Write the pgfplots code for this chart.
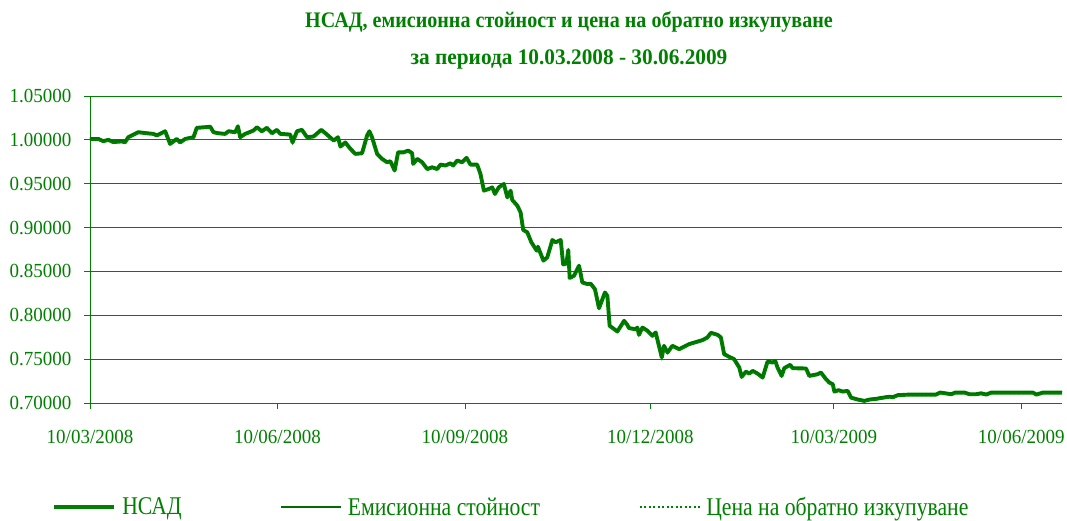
\documentclass[border=0pt]{standalone}
\usepackage{fontspec}
\setmainfont{Liberation Serif}
\newfontfamily\tickfont[FakeStretch=0.95]{Liberation Serif}
\newfontfamily\legfont[FakeStretch=0.85]{Liberation Serif}
\newfontfamily\titfonta[FakeStretch=0.905]{Liberation Serif}
\newfontfamily\titfontb[FakeStretch=0.96]{Liberation Serif}
\usepackage{pgfplots}
\usepackage{pgfplotstable}
\pgfplotsset{compat=1.18}
\definecolor{xlgreen}{RGB}{0,128,0}

\pgfplotstableread{
d nav emis red
0 1.0010 1.0020 1.0000
4.1 1.0010 1.0020 1.0000
6.5 0.9985 0.9995 0.9975
9.0 1.0000 1.0010 0.9990
11.4 0.9975 0.9985 0.9965
15.6 0.9982 0.9992 0.9972
17.2 0.9972 0.9982 0.9962
18.8 1.0030 1.0040 1.0020
23.7 1.0087 1.0097 1.0077
27.9 1.0075 1.0085 1.0065
31.1 1.0068 1.0078 1.0058
32.8 1.0050 1.0060 1.0040
36.9 1.0098 1.0108 1.0088
39.3 0.9954 0.9964 0.9944
42.6 1.0010 1.0020 1.0000
44.2 0.9970 0.9980 0.9960
46.7 1.0010 1.0020 1.0000
50.8 1.0030 1.0040 1.0020
52.4 1.0137 1.0147 1.0127
56.5 1.0144 1.0154 1.0134
59.0 1.0150 1.0160 1.0140
60.6 1.0087 1.0097 1.0077
63.0 1.0075 1.0085 1.0065
66.3 1.0068 1.0078 1.0058
68.0 1.0098 1.0108 1.0088
71.3 1.0087 1.0097 1.0077
72.6 1.0155 1.0165 1.0145
73.7 1.0030 1.0040 1.0020
76.2 1.0068 1.0078 1.0058
80.2 1.0106 1.0116 1.0096
81.9 1.0144 1.0154 1.0134
84.3 1.0098 1.0108 1.0088
86.8 1.0137 1.0147 1.0127
89.3 1.0075 1.0085 1.0065
91.7 1.0114 1.0124 1.0104
93.4 1.0068 1.0078 1.0058
98.3 1.0060 1.0070 1.0050
99.4 0.9970 0.9980 0.9960
101.6 1.0098 1.0108 1.0088
104.0 1.0114 1.0124 1.0104
106.5 1.0030 1.0040 1.0020
109.7 1.0038 1.0048 1.0028
113.5 1.0114 1.0124 1.0104
116.3 1.0060 1.0070 1.0050
119.6 0.9992 1.0002 0.9982
121.7 1.0030 1.0040 1.0020
122.9 0.9923 0.9933 0.9913
125.3 0.9970 0.9980 0.9960
127.8 0.9897 0.9907 0.9887
130.2 0.9840 0.9850 0.9830
133.5 0.9847 0.9857 0.9837
136.0 1.0050 1.0060 1.0040
137.1 1.0098 1.0108 1.0088
138.4 1.0030 1.0040 1.0020
140.9 0.9840 0.9850 0.9830
143.3 0.9783 0.9793 0.9773
145.8 0.9744 0.9754 0.9734
147.4 0.9756 0.9766 0.9746
149.5 0.9650 0.9660 0.9640
151.2 0.9858 0.9868 0.9848
154.0 0.9858 0.9868 0.9848
156.1 0.9878 0.9888 0.9868
158.1 0.9847 0.9857 0.9837
158.6 0.9726 0.9736 0.9716
160.6 0.9783 0.9793 0.9773
163.0 0.9744 0.9754 0.9734
165.5 0.9667 0.9677 0.9657
167.9 0.9687 0.9697 0.9677
170.4 0.9667 0.9677 0.9657
172.0 0.9718 0.9728 0.9708
174.4 0.9707 0.9717 0.9697
176.9 0.9733 0.9743 0.9723
178.2 0.9707 0.9717 0.9697
180.2 0.9764 0.9774 0.9754
182.6 0.9744 0.9754 0.9734
184.8 0.9795 0.9805 0.9785
186.7 0.9718 0.9728 0.9708
190.0 0.9718 0.9728 0.9708
191.6 0.9612 0.9622 0.9602
193.3 0.9421 0.9431 0.9411
195.7 0.9440 0.9450 0.9430
197.4 0.9458 0.9468 0.9448
198.7 0.9383 0.9393 0.9373
200.6 0.9458 0.9468 0.9448
203.1 0.9497 0.9507 0.9487
204.8 0.9344 0.9354 0.9334
206.4 0.9421 0.9431 0.9411
207.2 0.9315 0.9325 0.9305
209.7 0.9250 0.9260 0.9240
211.3 0.9173 0.9183 0.9163
212.6 0.8973 0.8983 0.8963
214.6 0.8945 0.8955 0.8935
216.6 0.8832 0.8842 0.8822
219.2 0.8737 0.8747 0.8727
219.8 0.8782 0.8792 0.8772
222.5 0.8623 0.8633 0.8613
224.4 0.8660 0.8670 0.8650
226.9 0.8858 0.8868 0.8848
228.5 0.8832 0.8842 0.8822
231.0 0.8858 0.8868 0.8848
232.2 0.8580 0.8590 0.8570
233.8 0.8590 0.8600 0.8580
234.7 0.8744 0.8754 0.8734
235.4 0.8425 0.8435 0.8415
237.5 0.8450 0.8460 0.8440
240.0 0.8565 0.8575 0.8555
241.6 0.8374 0.8384 0.8364
244.1 0.8356 0.8366 0.8346
245.7 0.8360 0.8370 0.8350
247.8 0.8297 0.8307 0.8287
249.8 0.8080 0.8090 0.8070
252.7 0.8260 0.8270 0.8250
253.9 0.8220 0.8230 0.8210
255.0 0.7880 0.7890 0.7870
258.8 0.7815 0.7825 0.7805
262.1 0.7937 0.7947 0.7927
263.7 0.7890 0.7900 0.7880
264.5 0.7854 0.7864 0.7844
267.8 0.7840 0.7850 0.7830
268.6 0.7860 0.7870 0.7850
269.4 0.7777 0.7787 0.7767
271.1 0.7860 0.7870 0.7850
273.6 0.7823 0.7833 0.7813
276.0 0.7766 0.7776 0.7756
277.6 0.7804 0.7814 0.7794
280.6 0.7519 0.7529 0.7509
281.7 0.7652 0.7662 0.7642
283.4 0.7575 0.7585 0.7565
285.8 0.7652 0.7662 0.7642
287.5 0.7632 0.7642 0.7622
289.1 0.7614 0.7624 0.7604
294.0 0.7671 0.7681 0.7661
300.6 0.7717 0.7727 0.7707
303.0 0.7747 0.7757 0.7737
304.7 0.7800 0.7810 0.7790
308.0 0.7777 0.7787 0.7767
309.6 0.7747 0.7757 0.7737
311.2 0.7557 0.7567 0.7547
313.7 0.7526 0.7536 0.7516
316.1 0.7500 0.7510 0.7490
317.4 0.7450 0.7460 0.7440
318.6 0.7405 0.7415 0.7395
319.8 0.7298 0.7308 0.7288
321.9 0.7358 0.7368 0.7348
323.5 0.7335 0.7345 0.7325
325.2 0.7366 0.7376 0.7356
327.6 0.7335 0.7345 0.7325
330.1 0.7290 0.7300 0.7280
332.5 0.7473 0.7483 0.7463
335.0 0.7461 0.7471 0.7451
336.3 0.7480 0.7490 0.7470
337.4 0.7404 0.7414 0.7394
339.4 0.7309 0.7319 0.7299
340.7 0.7397 0.7407 0.7387
343.6 0.7435 0.7445 0.7425
344.8 0.7397 0.7407 0.7387
351.4 0.7393 0.7403 0.7383
353.0 0.7309 0.7319 0.7299
357.1 0.7328 0.7338 0.7318
358.7 0.7347 0.7357 0.7337
361.2 0.7271 0.7281 0.7261
362.8 0.7233 0.7243 0.7223
364.5 0.7214 0.7224 0.7204
365.3 0.7130 0.7140 0.7120
367.3 0.7146 0.7156 0.7136
369.4 0.7130 0.7140 0.7120
371.8 0.7138 0.7148 0.7128
373.5 0.7061 0.7071 0.7051
376.8 0.7039 0.7049 0.7029
380.0 0.7024 0.7034 0.7014
382.5 0.7039 0.7049 0.7029
385.7 0.7047 0.7057 0.7037
388.2 0.7057 0.7067 0.7047
392.3 0.7072 0.7082 0.7062
394.0 0.7066 0.7076 0.7056
396.4 0.7089 0.7099 0.7079
402.1 0.7096 0.7106 0.7086
415.2 0.7096 0.7106 0.7086
417.2 0.7119 0.7129 0.7109
422.6 0.7100 0.7110 0.7090
424.7 0.7119 0.7129 0.7109
429.1 0.7119 0.7129 0.7109
431.6 0.7100 0.7110 0.7090
434.9 0.7100 0.7110 0.7090
437.3 0.7110 0.7120 0.7100
439.8 0.7096 0.7106 0.7086
442.3 0.7119 0.7129 0.7109
452.9 0.7119 0.7129 0.7109
462.7 0.7119 0.7129 0.7109
464.4 0.7096 0.7106 0.7086
467.7 0.7119 0.7129 0.7109
477.0 0.7119 0.7129 0.7109
}\datatable

\begin{document}
\begin{tikzpicture}
\path[use as bounding box] (-90pt,-118pt) rectangle (977pt,403pt);
\begin{axis}[
  at={(0pt,0pt)}, anchor=south west, scale only axis,
  width=972pt, height=307pt,
  xmin=0, xmax=477, ymin=0.70, ymax=1.05,
  axis x line*=bottom, axis y line*=left,
  axis line style={xlgreen, line width=0.8pt},
  ymajorgrids, grid style={xlgreen, line width=0.8pt},
  tick align=outside, major tick length=6pt,
  tick style={xlgreen, line width=0.8pt},
  xtick={0,92,184,275,365,457},
  xticklabels={10/03/2008,10/06/2008,10/09/2008,10/12/2008,10/03/2009,10/06/2009},
  ytick={0.70,0.75,0.80,0.85,0.90,0.95,1.00,1.05},
  /pgf/number format/assume math mode=true,
  yticklabel style={/pgf/number format/fixed, /pgf/number format/fixed zerofill, /pgf/number format/precision=5, xshift=-9pt},
  xticklabel style={yshift=-18pt},
  tick label style={font=\tickfont\fontsize{20}{22}\selectfont, text=xlgreen},
  legend columns=3,
  legend style={at={(0.4335,-0.339)}, anchor=center, draw=none, fill=none,
    font=\legfont\fontsize{25.5}{28}\selectfont, text=xlgreen,
    /tikz/every odd column/.append style={column sep=4pt},
    /tikz/every even column/.append style={column sep=97pt}},
  legend image code/.code={\draw[#1] (0pt,0pt) -- (60pt,0pt);},
  clip=false,
]
\addplot[xlgreen, line width=3.9pt, line join=round] table[x=d, y=nav] {\datatable};
\addlegendentry{НСАД}
\addplot[xlgreen!85!black, line width=1.2pt, line join=round] table[x=d, y=emis] {\datatable};
\addlegendentry{Емисионна стойност}
\addplot[xlgreen, line width=1.2pt, dash pattern=on 2pt off 2.5pt] table[x=d, y=red] {\datatable};
\addlegendentry{Цена на обратно изкупуване}
\end{axis}
\node[anchor=base, text=xlgreen, font=\titfonta\bfseries\fontsize{22.2}{26}\selectfont] at (479pt,375pt) {НСАД, емисионна стойност и цена на обратно изкупуване};
\node[anchor=base, text=xlgreen, font=\titfontb\bfseries\fontsize{22.2}{26}\selectfont] at (479pt,338pt) {за периода 10.03.2008 - 30.06.2009};
\end{tikzpicture}
\end{document}
